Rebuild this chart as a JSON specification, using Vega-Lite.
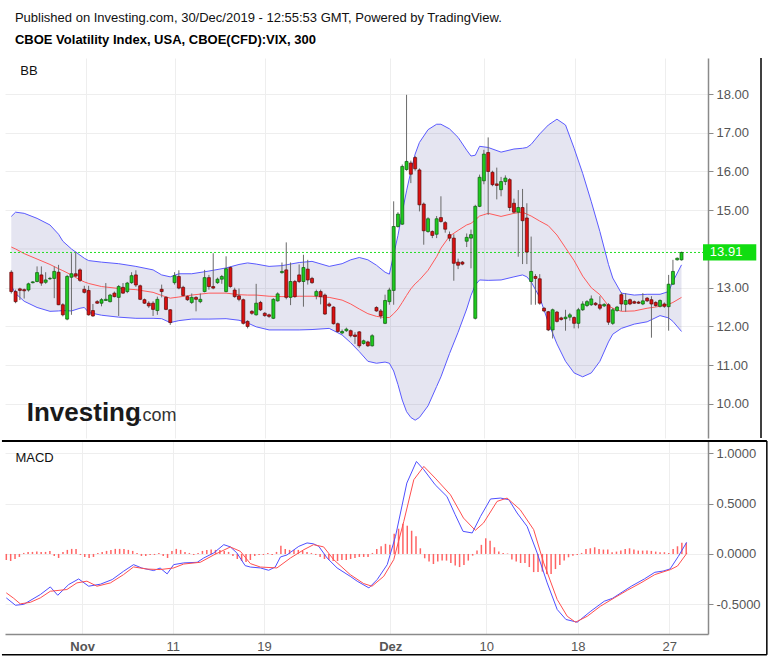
{
"$schema": "https://vega.github.io/schema/vega-lite/v6.json",
"padding": {"left": 0, "top": 12, "right": 4, "bottom": 4},
"background": "white",
"title": {"text": "Published on Investing.com, 30/Dec/2019 - 12:55:53 GMT, Powered by TradingView.", "subtitle": "CBOE Volatility Index, USA, CBOE(CFD):VIX, 300", "anchor": "start", "frame": "bounds", "dx": 14, "font": "Liberation Sans", "fontSize": 13, "fontWeight": "normal", "color": "#111", "subtitleFont": "Liberation Sans", "subtitleFontSize": 13, "subtitleFontWeight": "bold", "subtitleColor": "#000", "subtitlePadding": 9, "offset": 10},
"spacing": 1,
"datasets": {
"c": [
{"i":1,"o":13.40,"h":13.45,"l":12.85,"c":12.90,"m":-0.06},
{"i":2,"o":12.90,"h":12.95,"l":12.60,"c":12.64,"m":-0.07},
{"i":3,"o":12.97,"h":13.00,"l":12.68,"c":12.93,"m":-0.05},
{"i":4,"o":12.95,"h":12.98,"l":12.72,"c":12.92,"m":-0.03},
{"i":5,"o":12.94,"h":13.13,"l":12.90,"c":13.10,"m":0.01},
{"i":6,"o":13.13,"h":13.17,"l":13.11,"c":13.15,"m":0.02},
{"i":7,"o":13.16,"h":13.55,"l":13.14,"c":13.39,"m":0.02},
{"i":8,"o":13.33,"h":13.55,"l":13.05,"c":13.12,"m":0.025},
{"i":9,"o":13.14,"h":13.40,"l":13.10,"c":13.20,"m":0.02},
{"i":10,"o":13.23,"h":13.28,"l":13.20,"c":13.24,"m":0.02},
{"i":11,"o":13.24,"h":13.55,"l":12.73,"c":13.42,"m":0.03},
{"i":12,"o":13.40,"h":13.59,"l":12.55,"c":12.56,"m":-0.02},
{"i":13,"o":12.56,"h":12.60,"l":12.26,"c":12.30,"m":-0.04},
{"i":14,"o":12.19,"h":13.33,"l":12.16,"c":13.29,"m":0.02},
{"i":15,"o":13.27,"h":13.89,"l":12.30,"c":13.36,"m":0.04},
{"i":16,"o":13.36,"h":13.93,"l":13.28,"c":13.30,"m":0.05},
{"i":17,"o":13.46,"h":13.50,"l":13.15,"c":13.19,"m":0.05},
{"i":18,"o":12.96,"h":13.05,"l":12.85,"c":12.88,"m":-0.01},
{"i":19,"o":12.93,"h":13.05,"l":12.28,"c":12.30,"m":-0.03},
{"i":20,"o":12.41,"h":12.58,"l":12.25,"c":12.27,"m":-0.04},
{"i":21,"o":12.64,"h":12.68,"l":12.58,"c":12.60,"m":-0.03},
{"i":22,"o":12.60,"h":12.73,"l":12.52,"c":12.69,"m":0.01},
{"i":23,"o":12.67,"h":13.12,"l":12.66,"c":12.70,"m":0.02},
{"i":24,"o":12.64,"h":12.84,"l":12.62,"c":12.81,"m":0.03},
{"i":25,"o":12.86,"h":12.90,"l":12.75,"c":12.77,"m":0.04},
{"i":26,"o":12.75,"h":13.07,"l":12.27,"c":13.03,"m":0.05},
{"i":27,"o":13.01,"h":13.12,"l":12.84,"c":12.86,"m":0.05},
{"i":28,"o":12.90,"h":13.15,"l":12.86,"c":13.12,"m":0.05},
{"i":29,"o":13.13,"h":13.40,"l":13.10,"c":13.31,"m":0.04},
{"i":30,"o":13.33,"h":13.45,"l":13.02,"c":13.07,"m":0.03},
{"i":31,"o":13.05,"h":13.08,"l":12.68,"c":12.70,"m":0.01},
{"i":32,"o":12.69,"h":12.72,"l":12.58,"c":12.60,"m":-0.02},
{"i":33,"o":12.60,"h":12.65,"l":12.48,"c":12.53,"m":-0.02},
{"i":34,"o":12.60,"h":12.65,"l":12.27,"c":12.44,"m":-0.01},
{"i":35,"o":12.41,"h":12.77,"l":12.30,"c":12.70,"m":-0.01},
{"i":36,"o":12.96,"h":13.08,"l":12.75,"c":12.90,"m":0.01},
{"i":37,"o":12.75,"h":12.78,"l":12.42,"c":12.44,"m":-0.02},
{"i":38,"o":12.43,"h":12.45,"l":12.04,"c":12.10,"m":-0.04},
{"i":39,"o":13.13,"h":13.40,"l":13.08,"c":13.31,"m":0.03},
{"i":40,"o":13.29,"h":13.45,"l":12.96,"c":12.99,"m":0.05},
{"i":41,"o":13.01,"h":13.05,"l":12.78,"c":12.80,"m":0.04},
{"i":42,"o":12.77,"h":12.80,"l":12.66,"c":12.69,"m":0.02},
{"i":43,"o":12.62,"h":12.85,"l":12.58,"c":12.75,"m":0.01},
{"i":44,"o":12.75,"h":12.78,"l":12.39,"c":12.70,"m":-0.01},
{"i":45,"o":12.64,"h":12.85,"l":12.60,"c":12.70,"m":0.01},
{"i":46,"o":12.90,"h":13.46,"l":12.88,"c":13.26,"m":0.03},
{"i":47,"o":13.26,"h":13.33,"l":12.95,"c":13.03,"m":0.04},
{"i":48,"o":13.03,"h":13.89,"l":12.96,"c":12.99,"m":0.045},
{"i":49,"o":13.13,"h":13.26,"l":13.10,"c":13.22,"m":0.04},
{"i":50,"o":13.22,"h":13.33,"l":13.10,"c":13.29,"m":0.04},
{"i":51,"o":12.90,"h":13.81,"l":12.88,"c":13.49,"m":0.03},
{"i":52,"o":13.52,"h":13.55,"l":13.00,"c":13.03,"m":0.02},
{"i":53,"o":12.94,"h":13.00,"l":12.74,"c":12.77,"m":-0.02},
{"i":54,"o":12.79,"h":12.98,"l":12.65,"c":12.70,"m":-0.05},
{"i":55,"o":12.69,"h":12.72,"l":12.05,"c":12.08,"m":-0.07},
{"i":56,"o":12.13,"h":12.16,"l":11.95,"c":12.00,"m":-0.08},
{"i":57,"o":12.39,"h":12.42,"l":12.30,"c":12.34,"m":-0.06},
{"i":58,"o":12.30,"h":13.10,"l":12.28,"c":12.60,"m":-0.02},
{"i":59,"o":12.62,"h":12.66,"l":12.40,"c":12.43,"m":-0.01},
{"i":60,"o":12.34,"h":12.37,"l":12.25,"c":12.28,"m":-0.01},
{"i":61,"o":12.30,"h":12.33,"l":12.22,"c":12.26,"m":0.01},
{"i":62,"o":12.21,"h":12.73,"l":12.19,"c":12.70,"m":-0.01},
{"i":63,"o":12.66,"h":12.88,"l":12.64,"c":12.84,"m":0.02},
{"i":64,"o":13.39,"h":13.65,"l":13.36,"c":13.42,"m":0.08},
{"i":65,"o":13.46,"h":14.17,"l":12.70,"c":12.75,"m":0.05},
{"i":66,"o":12.75,"h":13.65,"l":12.55,"c":13.16,"m":0.04},
{"i":67,"o":13.16,"h":13.20,"l":12.74,"c":12.77,"m":0.04},
{"i":68,"o":13.33,"h":13.60,"l":13.12,"c":13.16,"m":0.04},
{"i":69,"o":13.16,"h":13.85,"l":12.51,"c":13.52,"m":0.03},
{"i":70,"o":13.48,"h":13.72,"l":13.08,"c":13.20,"m":0.02},
{"i":71,"o":13.24,"h":13.28,"l":13.10,"c":13.13,"m":0.01},
{"i":72,"o":12.79,"h":12.95,"l":12.70,"c":12.90,"m":-0.01},
{"i":73,"o":12.90,"h":12.95,"l":12.57,"c":12.77,"m":-0.03},
{"i":74,"o":12.81,"h":12.85,"l":12.30,"c":12.32,"m":-0.05},
{"i":75,"o":12.58,"h":12.62,"l":12.50,"c":12.53,"m":-0.06},
{"i":76,"o":12.50,"h":12.52,"l":12.05,"c":12.07,"m":-0.07},
{"i":77,"o":12.07,"h":12.10,"l":11.84,"c":11.87,"m":-0.07},
{"i":78,"o":11.83,"h":11.92,"l":11.80,"c":11.87,"m":-0.06},
{"i":79,"o":11.89,"h":11.97,"l":11.86,"c":11.93,"m":-0.06},
{"i":80,"o":11.89,"h":11.92,"l":11.72,"c":11.76,"m":-0.05},
{"i":81,"o":11.78,"h":11.85,"l":11.55,"c":11.74,"m":-0.04},
{"i":82,"o":11.86,"h":11.88,"l":11.45,"c":11.50,"m":-0.03},
{"i":83,"o":11.56,"h":11.66,"l":11.53,"c":11.63,"m":-0.03},
{"i":84,"o":11.60,"h":11.63,"l":11.47,"c":11.50,"m":-0.03},
{"i":85,"o":11.50,"h":11.80,"l":11.48,"c":11.76,"m":0.01},
{"i":86,"o":12.49,"h":12.52,"l":12.38,"c":12.40,"m":0.05},
{"i":87,"o":12.40,"h":12.45,"l":12.20,"c":12.27,"m":0.076},
{"i":88,"o":12.08,"h":12.82,"l":12.06,"c":12.67,"m":0.10},
{"i":89,"o":12.64,"h":13.00,"l":12.56,"c":12.94,"m":0.09},
{"i":90,"o":12.93,"h":15.23,"l":12.56,"c":14.58,"m":0.20},
{"i":91,"o":14.58,"h":14.95,"l":14.55,"c":14.90,"m":0.25},
{"i":92,"o":14.64,"h":16.18,"l":14.62,"c":16.13,"m":0.30},
{"i":93,"o":16.05,"h":17.98,"l":16.02,"c":16.26,"m":0.28},
{"i":94,"o":16.22,"h":16.28,"l":15.70,"c":15.93,"m":0.23},
{"i":95,"o":16.36,"h":16.40,"l":16.02,"c":16.07,"m":0.175},
{"i":96,"o":16.04,"h":16.08,"l":14.97,"c":15.14,"m":0.056},
{"i":97,"o":15.16,"h":15.20,"l":14.11,"c":14.47,"m":-0.043},
{"i":98,"o":14.45,"h":14.82,"l":14.42,"c":14.78,"m":-0.076},
{"i":99,"o":14.45,"h":14.48,"l":14.28,"c":14.35,"m":-0.10},
{"i":100,"o":14.38,"h":14.85,"l":14.28,"c":14.78,"m":-0.076},
{"i":101,"o":14.81,"h":15.36,"l":14.68,"c":14.71,"m":-0.066},
{"i":102,"o":14.68,"h":14.72,"l":14.42,"c":14.51,"m":-0.066},
{"i":103,"o":14.37,"h":14.45,"l":14.20,"c":14.28,"m":-0.09},
{"i":104,"o":14.28,"h":14.38,"l":13.18,"c":13.63,"m":-0.115},
{"i":105,"o":13.66,"h":13.75,"l":13.48,"c":13.58,"m":-0.13},
{"i":106,"o":13.66,"h":13.69,"l":13.58,"c":13.61,"m":-0.11},
{"i":107,"o":14.20,"h":14.40,"l":14.05,"c":14.30,"m":-0.066},
{"i":108,"o":14.28,"h":14.50,"l":13.50,"c":14.37,"m":-0.017},
{"i":109,"o":12.21,"h":15.14,"l":12.18,"c":15.10,"m":0.033},
{"i":110,"o":15.10,"h":15.92,"l":15.08,"c":15.85,"m":0.09},
{"i":111,"o":15.76,"h":16.56,"l":15.67,"c":16.45,"m":0.155},
{"i":112,"o":16.49,"h":16.88,"l":14.88,"c":16.00,"m":0.13},
{"i":113,"o":15.98,"h":16.02,"l":15.62,"c":15.66,"m":0.066},
{"i":114,"o":15.68,"h":16.10,"l":15.28,"c":15.64,"m":0.023},
{"i":115,"o":15.53,"h":15.86,"l":15.36,"c":15.74,"m":0.01},
{"i":116,"o":15.74,"h":15.90,"l":15.65,"c":15.83,"m":0.005},
{"i":117,"o":15.79,"h":15.83,"l":14.98,"c":15.07,"m":-0.056},
{"i":118,"o":15.18,"h":15.30,"l":14.92,"c":14.95,"m":-0.076},
{"i":119,"o":14.95,"h":15.52,"l":13.80,"c":15.07,"m":-0.09},
{"i":120,"o":15.07,"h":15.55,"l":13.61,"c":14.73,"m":-0.09},
{"i":121,"o":14.80,"h":15.18,"l":13.61,"c":13.92,"m":-0.13},
{"i":122,"o":13.16,"h":14.32,"l":12.56,"c":13.42,"m":-0.18},
{"i":123,"o":13.29,"h":13.35,"l":12.56,"c":13.24,"m":-0.18},
{"i":124,"o":13.23,"h":13.35,"l":12.56,"c":12.60,"m":-0.175},
{"i":125,"o":12.47,"h":12.50,"l":12.37,"c":12.40,"m":-0.20},
{"i":126,"o":12.38,"h":12.40,"l":11.88,"c":11.91,"m":-0.20},
{"i":127,"o":11.91,"h":12.46,"l":11.69,"c":12.43,"m":-0.15},
{"i":128,"o":12.37,"h":12.40,"l":12.10,"c":12.13,"m":-0.11},
{"i":129,"o":12.22,"h":12.25,"l":12.15,"c":12.18,"m":-0.066},
{"i":130,"o":12.20,"h":12.43,"l":11.89,"c":12.24,"m":-0.033},
{"i":131,"o":12.24,"h":12.35,"l":12.15,"c":12.30,"m":-0.017},
{"i":132,"o":12.23,"h":12.26,"l":11.95,"c":12.08,"m":-0.01},
{"i":133,"o":12.08,"h":12.48,"l":11.95,"c":12.43,"m":0.01},
{"i":134,"o":12.43,"h":12.65,"l":12.40,"c":12.58,"m":0.05},
{"i":135,"o":12.54,"h":12.68,"l":12.50,"c":12.64,"m":0.056},
{"i":136,"o":12.56,"h":12.80,"l":12.53,"c":12.71,"m":0.066},
{"i":137,"o":12.60,"h":12.63,"l":12.53,"c":12.56,"m":0.05},
{"i":138,"o":12.56,"h":12.78,"l":12.42,"c":12.47,"m":0.043},
{"i":139,"o":12.53,"h":12.60,"l":12.50,"c":12.57,"m":0.043},
{"i":140,"o":12.56,"h":12.60,"l":12.04,"c":12.11,"m":0.017},
{"i":141,"o":12.08,"h":12.48,"l":12.04,"c":12.43,"m":0.023},
{"i":142,"o":12.41,"h":12.53,"l":12.38,"c":12.50,"m":0.033},
{"i":143,"o":12.82,"h":12.88,"l":12.40,"c":12.58,"m":0.05},
{"i":144,"o":12.57,"h":12.86,"l":12.38,"c":12.67,"m":0.056},
{"i":145,"o":12.69,"h":12.72,"l":12.55,"c":12.58,"m":0.043},
{"i":146,"o":12.64,"h":12.67,"l":12.58,"c":12.60,"m":0.033},
{"i":147,"o":12.63,"h":12.66,"l":12.58,"c":12.60,"m":0.033},
{"i":148,"o":12.58,"h":12.86,"l":12.55,"c":12.66,"m":0.033},
{"i":149,"o":12.73,"h":12.76,"l":12.63,"c":12.66,"m":0.03},
{"i":150,"o":12.69,"h":12.78,"l":11.71,"c":12.58,"m":0.023},
{"i":151,"o":12.62,"h":12.65,"l":12.51,"c":12.54,"m":0.017},
{"i":152,"o":12.52,"h":12.70,"l":12.49,"c":12.67,"m":0.017},
{"i":153,"o":12.58,"h":12.62,"l":12.48,"c":12.52,"m":0.01},
{"i":154,"o":12.51,"h":13.33,"l":11.89,"c":13.09,"m":0.05},
{"i":155,"o":13.09,"h":13.72,"l":13.07,"c":13.42,"m":0.076},
{"i":156,"o":13.72,"h":13.78,"l":13.70,"c":13.76,"m":0.11},
{"i":157,"o":13.72,"h":13.93,"l":13.70,"c":13.91,"m":0.11}
],
"bb": [
{"i":1,"u":14.84,"m":14.05,"lo":13.05},
{"i":2,"u":14.95,"m":14.00,"lo":12.85},
{"i":4,"u":14.92,"m":13.88,"lo":12.65},
{"i":7,"u":14.79,"m":13.74,"lo":12.49},
{"i":10,"u":14.62,"m":13.60,"lo":12.39},
{"i":12,"u":14.38,"m":13.49,"lo":12.40},
{"i":13,"u":14.20,"m":13.44,"lo":12.41},
{"i":15,"u":14.00,"m":13.33,"lo":12.40},
{"i":17,"u":13.84,"m":13.20,"lo":12.47},
{"i":18,"u":13.76,"m":13.15,"lo":12.49},
{"i":19,"u":13.70,"m":13.11,"lo":12.36},
{"i":22,"u":13.66,"m":13.03,"lo":12.29},
{"i":26,"u":13.62,"m":12.98,"lo":12.24},
{"i":30,"u":13.55,"m":12.95,"lo":12.21},
{"i":34,"u":13.46,"m":12.88,"lo":12.21},
{"i":36,"u":13.33,"m":12.80,"lo":12.20},
{"i":38,"u":13.28,"m":12.73,"lo":12.10},
{"i":40,"u":13.36,"m":12.76,"lo":12.15},
{"i":43,"u":13.36,"m":12.81,"lo":12.19},
{"i":47,"u":13.43,"m":12.86,"lo":12.19},
{"i":51,"u":13.51,"m":12.86,"lo":12.20},
{"i":54,"u":13.60,"m":12.82,"lo":12.16},
{"i":56,"u":13.64,"m":12.81,"lo":12.09},
{"i":58,"u":13.61,"m":12.81,"lo":11.99},
{"i":61,"u":13.55,"m":12.78,"lo":11.91},
{"i":64,"u":13.57,"m":12.77,"lo":11.91},
{"i":68,"u":13.65,"m":12.78,"lo":11.91},
{"i":71,"u":13.68,"m":12.78,"lo":11.92},
{"i":75,"u":13.55,"m":12.75,"lo":11.95},
{"i":78,"u":13.62,"m":12.68,"lo":11.78},
{"i":80,"u":13.72,"m":12.58,"lo":11.58},
{"i":82,"u":13.78,"m":12.45,"lo":11.35},
{"i":84,"u":13.72,"m":12.33,"lo":11.10},
{"i":86,"u":13.58,"m":12.26,"lo":11.05},
{"i":88,"u":13.40,"m":12.23,"lo":11.08},
{"i":89,"u":13.35,"m":12.23,"lo":11.05},
{"i":90,"u":13.85,"m":12.33,"lo":10.85},
{"i":91,"u":14.35,"m":12.45,"lo":10.50},
{"i":92,"u":14.95,"m":12.62,"lo":10.10},
{"i":93,"u":15.50,"m":12.80,"lo":9.80},
{"i":94,"u":16.00,"m":12.97,"lo":9.65},
{"i":95,"u":16.45,"m":13.10,"lo":9.58},
{"i":96,"u":16.75,"m":13.20,"lo":9.65},
{"i":98,"u":17.08,"m":13.45,"lo":9.95},
{"i":100,"u":17.22,"m":13.80,"lo":10.45},
{"i":101,"u":17.22,"m":14.02,"lo":10.70},
{"i":103,"u":17.10,"m":14.33,"lo":11.30},
{"i":105,"u":16.88,"m":14.48,"lo":11.85},
{"i":107,"u":16.55,"m":14.62,"lo":12.45},
{"i":108,"u":16.40,"m":14.66,"lo":12.80},
{"i":109,"u":16.42,"m":14.75,"lo":13.07},
{"i":110,"u":16.65,"m":14.85,"lo":13.20},
{"i":112,"u":16.62,"m":14.92,"lo":13.19},
{"i":115,"u":16.50,"m":14.84,"lo":13.20},
{"i":118,"u":16.58,"m":14.92,"lo":13.28},
{"i":120,"u":16.60,"m":14.95,"lo":13.33},
{"i":121,"u":16.62,"m":14.90,"lo":13.28},
{"i":122,"u":16.70,"m":14.85,"lo":13.15},
{"i":124,"u":16.97,"m":14.72,"lo":12.75},
{"i":126,"u":17.20,"m":14.60,"lo":12.10},
{"i":128,"u":17.35,"m":14.36,"lo":11.55},
{"i":130,"u":17.20,"m":14.03,"lo":11.10},
{"i":132,"u":16.60,"m":13.70,"lo":10.80},
{"i":134,"u":15.95,"m":13.30,"lo":10.70},
{"i":136,"u":15.22,"m":13.00,"lo":10.80},
{"i":138,"u":14.45,"m":12.82,"lo":11.10},
{"i":140,"u":13.60,"m":12.53,"lo":11.60},
{"i":141,"u":13.25,"m":12.47,"lo":11.80},
{"i":143,"u":12.86,"m":12.39,"lo":11.95},
{"i":146,"u":12.81,"m":12.40,"lo":12.06},
{"i":149,"u":12.83,"m":12.47,"lo":12.12},
{"i":152,"u":12.83,"m":12.52,"lo":12.28},
{"i":154,"u":12.90,"m":12.57,"lo":12.22},
{"i":155,"u":13.16,"m":12.62,"lo":12.13},
{"i":157,"u":13.59,"m":12.75,"lo":11.87}
],
"macd": [
{"k":"MACD","i":1,"v":-0.436},{"k":"MACD","i":3.1,"v":-0.509},{"k":"MACD","i":5,"v":-0.50},{"k":"MACD","i":8.8,"v":-0.403},{"k":"MACD","i":11.1,"v":-0.327},{"k":"MACD","i":12.8,"v":-0.41},{"k":"MACD","i":15.3,"v":-0.304},{"k":"MACD","i":17.6,"v":-0.248},{"k":"MACD","i":19.9,"v":-0.32},{"k":"MACD","i":22.6,"v":-0.30},{"k":"MACD","i":25.3,"v":-0.254},{"k":"MACD","i":27.9,"v":-0.172},{"k":"MACD","i":30.2,"v":-0.106},{"k":"MACD","i":32.1,"v":-0.14},{"k":"MACD","i":34.8,"v":-0.165},{"k":"MACD","i":36.3,"v":-0.14},{"k":"MACD","i":37.9,"v":-0.198},{"k":"MACD","i":39.4,"v":-0.106},{"k":"MACD","i":41.7,"v":-0.089},{"k":"MACD","i":44.8,"v":-0.083},{"k":"MACD","i":46.3,"v":-0.04},{"k":"MACD","i":48.6,"v":0.01},{"k":"MACD","i":50.9,"v":0.092},{"k":"MACD","i":52.4,"v":0.07},{"k":"MACD","i":53.9,"v":0.01},{"k":"MACD","i":55.8,"v":-0.116},{"k":"MACD","i":57,"v":-0.13},{"k":"MACD","i":59.3,"v":-0.139},{"k":"MACD","i":61.2,"v":-0.162},{"k":"MACD","i":62.7,"v":-0.13},{"k":"MACD","i":63.9,"v":-0.03},{"k":"MACD","i":65.4,"v":-0.01},{"k":"MACD","i":66.2,"v":0.016},{"k":"MACD","i":68.1,"v":0.075},{"k":"MACD","i":70,"v":0.109},{"k":"MACD","i":71.5,"v":0.10},{"k":"MACD","i":72.7,"v":0.075},{"k":"MACD","i":74.6,"v":-0.04},{"k":"MACD","i":76.9,"v":-0.139},{"k":"MACD","i":79.9,"v":-0.222},{"k":"MACD","i":81.5,"v":-0.27},{"k":"MACD","i":84.2,"v":-0.337},{"k":"MACD","i":86.1,"v":-0.254},{"k":"MACD","i":88.4,"v":-0.106},{"k":"MACD","i":90.3,"v":0.175},{"k":"MACD","i":92.9,"v":0.703},{"k":"MACD","i":95.1,"v":0.917},{"k":"MACD","i":96.8,"v":0.835},{"k":"MACD","i":99.4,"v":0.686},{"k":"MACD","i":102.1,"v":0.57},{"k":"MACD","i":104,"v":0.389},{"k":"MACD","i":105.8,"v":0.224},{"k":"MACD","i":107.9,"v":0.208},{"k":"MACD","i":109.8,"v":0.372},{"k":"MACD","i":112.1,"v":0.545},{"k":"MACD","i":114.4,"v":0.554},{"k":"MACD","i":116.3,"v":0.538},{"k":"MACD","i":118.2,"v":0.406},{"k":"MACD","i":120.5,"v":0.273},{"k":"MACD","i":122.8,"v":0.01},{"k":"MACD","i":125.1,"v":-0.287},{"k":"MACD","i":127.4,"v":-0.551},{"k":"MACD","i":129.4,"v":-0.65},{"k":"MACD","i":132,"v":-0.677},{"k":"MACD","i":135.1,"v":-0.568},{"k":"MACD","i":138.2,"v":-0.469},{"k":"MACD","i":140.1,"v":-0.44},{"k":"MACD","i":144.4,"v":-0.32},{"k":"MACD","i":147.4,"v":-0.248},{"k":"MACD","i":149.8,"v":-0.182},{"k":"MACD","i":151.7,"v":-0.17},{"k":"MACD","i":153.3,"v":-0.149},{"k":"MACD","i":155.2,"v":-0.024},{"k":"MACD","i":157.1,"v":0.115},
{"k":"Signal","i":1,"v":-0.386},{"k":"Signal","i":2.7,"v":-0.44},{"k":"Signal","i":4.2,"v":-0.495},{"k":"Signal","i":6.5,"v":-0.48},{"k":"Signal","i":8.8,"v":-0.436},{"k":"Signal","i":11.1,"v":-0.37},{"k":"Signal","i":14.9,"v":-0.353},{"k":"Signal","i":17.2,"v":-0.287},{"k":"Signal","i":19.5,"v":-0.27},{"k":"Signal","i":21.8,"v":-0.32},{"k":"Signal","i":24.9,"v":-0.287},{"k":"Signal","i":27.9,"v":-0.205},{"k":"Signal","i":30.2,"v":-0.129},{"k":"Signal","i":33.3,"v":-0.15},{"k":"Signal","i":36.3,"v":-0.155},{"k":"Signal","i":39.4,"v":-0.139},{"k":"Signal","i":41.7,"v":-0.10},{"k":"Signal","i":45.5,"v":-0.083},{"k":"Signal","i":48.6,"v":-0.01},{"k":"Signal","i":52.4,"v":0.069},{"k":"Signal","i":54.7,"v":0.026},{"k":"Signal","i":57,"v":-0.096},{"k":"Signal","i":59.3,"v":-0.13},{"k":"Signal","i":63.1,"v":-0.139},{"k":"Signal","i":66.2,"v":-0.04},{"k":"Signal","i":69.3,"v":0.043},{"k":"Signal","i":71.5,"v":0.092},{"k":"Signal","i":73.8,"v":0.07},{"k":"Signal","i":76.1,"v":-0.056},{"k":"Signal","i":79.9,"v":-0.205},{"k":"Signal","i":83,"v":-0.294},{"k":"Signal","i":84.9,"v":-0.32},{"k":"Signal","i":87.6,"v":-0.222},{"k":"Signal","i":89.9,"v":-0.056},{"k":"Signal","i":92.2,"v":0.323},{"k":"Signal","i":94.5,"v":0.736},{"k":"Signal","i":96.8,"v":0.868},{"k":"Signal","i":99.4,"v":0.752},{"k":"Signal","i":102.9,"v":0.587},{"k":"Signal","i":105.9,"v":0.356},{"k":"Signal","i":108.6,"v":0.234},{"k":"Signal","i":110.5,"v":0.307},{"k":"Signal","i":113.6,"v":0.521},{"k":"Signal","i":115.9,"v":0.554},{"k":"Signal","i":118.9,"v":0.439},{"k":"Signal","i":122,"v":0.241},{"k":"Signal","i":124.3,"v":-0.089},{"k":"Signal","i":127.4,"v":-0.452},{"k":"Signal","i":129.7,"v":-0.618},{"k":"Signal","i":131.6,"v":-0.677},{"k":"Signal","i":134.3,"v":-0.618},{"k":"Signal","i":137.3,"v":-0.519},{"k":"Signal","i":140.5,"v":-0.436},{"k":"Signal","i":143.5,"v":-0.36},{"k":"Signal","i":146.6,"v":-0.287},{"k":"Signal","i":149.8,"v":-0.205},{"k":"Signal","i":153.4,"v":-0.155},{"k":"Signal","i":155,"v":-0.12},{"k":"Signal","i":157.2,"v":0.01}
]
},
"vconcat": [
{
"width": 703, "height": 380,
"layer": [
{"data": {"values": [{}]}, "mark": {"type": "rule", "color": "#eeeeee", "strokeWidth": 1},
 "encoding": {
  "x": {"datum": 0.7, "type": "quantitative", "scale": {"domain": [0.7, 162], "nice": false, "zero": false}, "axis": {"values": [18.4, 39.2, 60.1, 89.1, 111.1, 132.1, 153.1], "labels": false, "ticks": false, "domain": false, "grid": true, "title": null}},
  "x2": {"datum": 162},
  "y": {"datum": 14, "type": "quantitative", "scale": {"domain": [9.12, 18.93], "nice": false, "zero": false}, "axis": {"orient": "right", "values": [10, 11, 12, 13, 15, 16, 17, 18], "format": ".2f", "grid": true, "title": null}}}},
{"data": {"name": "bb"}, "mark": {"type": "area", "color": "#5050a0", "opacity": 0.15},
 "encoding": {"x": {"field": "i", "type": "quantitative"}, "y": {"field": "u", "type": "quantitative"}, "y2": {"field": "lo"}}},
{"data": {"name": "bb"}, "mark": {"type": "line", "color": "#5a5aff", "strokeWidth": 1}, "encoding": {"x": {"field": "i", "type": "quantitative"}, "y": {"field": "u", "type": "quantitative"}}},
{"data": {"name": "bb"}, "mark": {"type": "line", "color": "#5a5aff", "strokeWidth": 1}, "encoding": {"x": {"field": "i", "type": "quantitative"}, "y": {"field": "lo", "type": "quantitative"}}},
{"data": {"name": "bb"}, "mark": {"type": "line", "color": "#ff5a5a", "strokeWidth": 1}, "encoding": {"x": {"field": "i", "type": "quantitative"}, "y": {"field": "m", "type": "quantitative"}}},
{"data": {"values": [{}]}, "mark": {"type": "rule", "color": "#22dd22", "strokeWidth": 1, "strokeDash": [2, 2]}, "encoding": {"x": {"datum": 0.7, "type": "quantitative"}, "x2": {"datum": 162}, "y": {"datum": 13.91, "type": "quantitative"}}},
{"data": {"name": "c"}, "mark": {"type": "rule", "color": "#6a6a6a", "strokeWidth": 1}, "encoding": {"x": {"field": "i", "type": "quantitative"}, "y": {"field": "l", "type": "quantitative"}, "y2": {"field": "h"}}},
{"data": {"name": "c"}, "mark": {"type": "bar", "width": 3, "strokeWidth": 0.7},
 "encoding": {"x": {"field": "i", "type": "quantitative"}, "y": {"field": "o", "type": "quantitative"}, "y2": {"field": "c"},
  "fill": {"condition": {"test": "datum.c >= datum.o", "value": "#1ecb1e"}, "value": "#dd1010"},
  "stroke": {"condition": {"test": "datum.c >= datum.o", "value": "#0b5a0b"}, "value": "#5a0a0a"}}},
{"data": {"values": [{}]}, "mark": {"type": "rect", "color": "#11dd11"}, "encoding": {"x": {"datum": 162, "type": "quantitative"}, "x2": {"datum": 174.4}, "y": {"datum": 13.70, "type": "quantitative"}, "y2": {"datum": 14.12}}},
{"data": {"values": [{}]}, "mark": {"type": "text", "text": "13.91", "color": "white", "font": "Liberation Sans", "fontSize": 13, "align": "left", "baseline": "middle"}, "encoding": {"x": {"datum": 163.6, "type": "quantitative"}, "y": {"datum": 13.91, "type": "quantitative"}}},
{"data": {"values": [{}]}, "mark": {"type": "text", "text": "BB", "color": "#111", "font": "Liberation Sans", "fontSize": 13, "align": "left", "baseline": "middle"}, "encoding": {"x": {"datum": 3.1, "type": "quantitative"}, "y": {"datum": 18.59, "type": "quantitative"}}},
{"data": {"values": [{}]}, "mark": {"type": "text", "text": "Investing", "color": "#1a1a1a", "font": "Liberation Sans", "fontSize": 26, "fontWeight": "bold", "align": "left", "baseline": "alphabetic"}, "encoding": {"x": {"datum": 4.6, "type": "quantitative"}, "y": {"datum": 9.55, "type": "quantitative"}}},
{"data": {"values": [{}]}, "mark": {"type": "text", "text": ".com", "color": "#333", "font": "Liberation Sans", "fontSize": 18, "align": "left", "baseline": "alphabetic"}, "encoding": {"x": {"datum": 30.4, "type": "quantitative"}, "y": {"datum": 9.55, "type": "quantitative"}}},
{"data": {"values": [{}]}, "mark": {"type": "rule", "color": "#000", "strokeWidth": 1.5}, "encoding": {"x": {"datum": 175.5, "type": "quantitative"}}}
]
},
{
"width": 703, "height": 193,
"layer": [
{"data": {"name": "c"}, "mark": {"type": "rule", "color": "#ff6464", "strokeWidth": 1.5},
 "encoding": {
  "x": {"field": "i", "type": "quantitative", "scale": {"domain": [0.7, 162], "nice": false, "zero": false},
   "axis": {"values": [18.4, 39.2, 60.1, 89.1, 111.1, 132.1, 153.1], "labelExpr": "datum.value < 20 ? 'Nov' : datum.value < 50 ? '11' : datum.value < 70 ? '19' : datum.value < 100 ? 'Dez' : datum.value < 120 ? '10' : datum.value < 140 ? '18' : '27'", "labelFontWeight": {"condition": {"test": "datum.value < 20 || (datum.value > 80 && datum.value < 100)", "value": "bold"}, "value": "normal"}, "ticks": false, "domain": true, "grid": true, "labelPadding": 6, "title": null}},
  "y": {"field": "m", "type": "quantitative", "scale": {"domain": [-0.794, 1.12], "nice": false, "zero": false},
   "axis": {"orient": "right", "values": [-0.5, 0, 0.5, 1], "labelExpr": "datum.value < -0.1 ? '-0.5000' : datum.value < 0.1 ? '0.0000' : datum.value < 0.7 ? '0.5000' : '1.0000'", "grid": true, "title": null}},
  "y2": {"datum": 0}}},
{"data": {"name": "macd"}, "mark": {"type": "line", "strokeWidth": 1},
 "encoding": {"x": {"field": "i", "type": "quantitative"}, "y": {"field": "v", "type": "quantitative"},
  "color": {"field": "k", "type": "nominal", "scale": {"domain": ["MACD", "Signal"], "range": ["#4f4fff", "#ff4f4f"]}, "legend": null}}},
{"data": {"values": [{}]}, "mark": {"type": "text", "text": "MACD", "color": "#111", "font": "Liberation Sans", "fontSize": 13, "align": "left", "baseline": "middle"}, "encoding": {"x": {"datum": 3.1, "type": "quantitative"}, "y": {"datum": 0.955, "type": "quantitative"}}},
{"data": {"values": [{}]}, "mark": {"type": "rule", "color": "#000", "strokeWidth": 2}, "encoding": {"x": {"datum": 0.0, "type": "quantitative"}, "x2": {"datum": 175.5}, "y": {"datum": 1.12, "type": "quantitative"}}},
{"data": {"values": [{}]}, "mark": {"type": "rule", "color": "#000", "strokeWidth": 1.5}, "encoding": {"x": {"datum": 0.0, "type": "quantitative"}, "x2": {"datum": 175.5}, "y": {"datum": -1.0, "type": "quantitative"}}},
{"data": {"values": [{}]}, "mark": {"type": "rule", "color": "#000", "strokeWidth": 1.5}, "encoding": {"x": {"datum": 175.5, "type": "quantitative"}, "y": {"datum": -1.0, "type": "quantitative"}, "y2": {"datum": 1.12}}}
]
}
],
"config": {
 "view": {"stroke": null},
 "font": "Liberation Sans",
 "axis": {"gridColor": "#eeeeee", "gridWidth": 1, "domainColor": "#8a8a8a", "domainWidth": 1.5, "tickColor": "#8a8a8a", "tickSize": 5, "labelColor": "#555555", "labelFont": "Liberation Sans", "labelFontSize": 13, "labelPadding": 3}
}
}
